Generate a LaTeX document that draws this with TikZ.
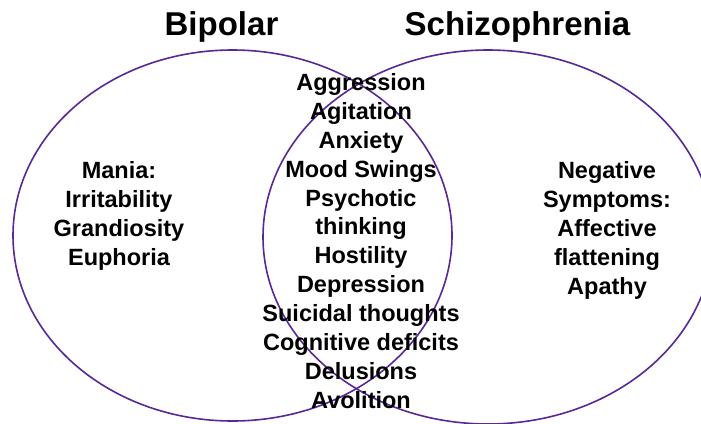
\documentclass[tikz,border=0pt]{standalone}
\usepackage{fontspec}
\setmainfont{Liberation Sans}
\usetikzlibrary{shapes.geometric}
\definecolor{vennline}{RGB}{88,40,150}
\begin{document}
\begin{tikzpicture}[x=1pt,y=-1pt,
  setring/.style={ellipse, draw=vennline, line width=1.6pt, inner sep=0pt, outer sep=0pt},
  titletext/.style={font=\fontsize{33}{38}\selectfont\bfseries, inner sep=0pt, anchor=base},
  listtext/.style={font=\fontsize{23.5}{28.9}\selectfont\bfseries, align=center, inner sep=0pt, anchor=north}]
\useasboundingbox (0,0) rectangle (701,423);
\node[setring, minimum width=439pt, minimum height=371pt] (bipolar) at (232.5,235.5) {};
\node[setring, minimum width=450pt, minimum height=374pt] (schizo) at (488,237) {};
\node[titletext] (tbip) at (221.5,35) {Bipolar};
\node[titletext] (tsch) at (517.5,35) {Schizophrenia};
\node[listtext] (left) at (119,161.5) {Mania:\\Irritability\\Grandiosity\\Euphoria};
\node[listtext] (mid) at (361,73.2) {Aggression\\Agitation\\Anxiety\\Mood Swings\\Psychotic\\thinking\\Hostility\\Depression\\Suicidal thoughts\\Cognitive deficits\\Delusions\\Avolition};
\node[listtext] (right) at (607,161.5) {Negative\\Symptoms:\\Affective\\flattening\\Apathy};
\end{tikzpicture}
\end{document}
